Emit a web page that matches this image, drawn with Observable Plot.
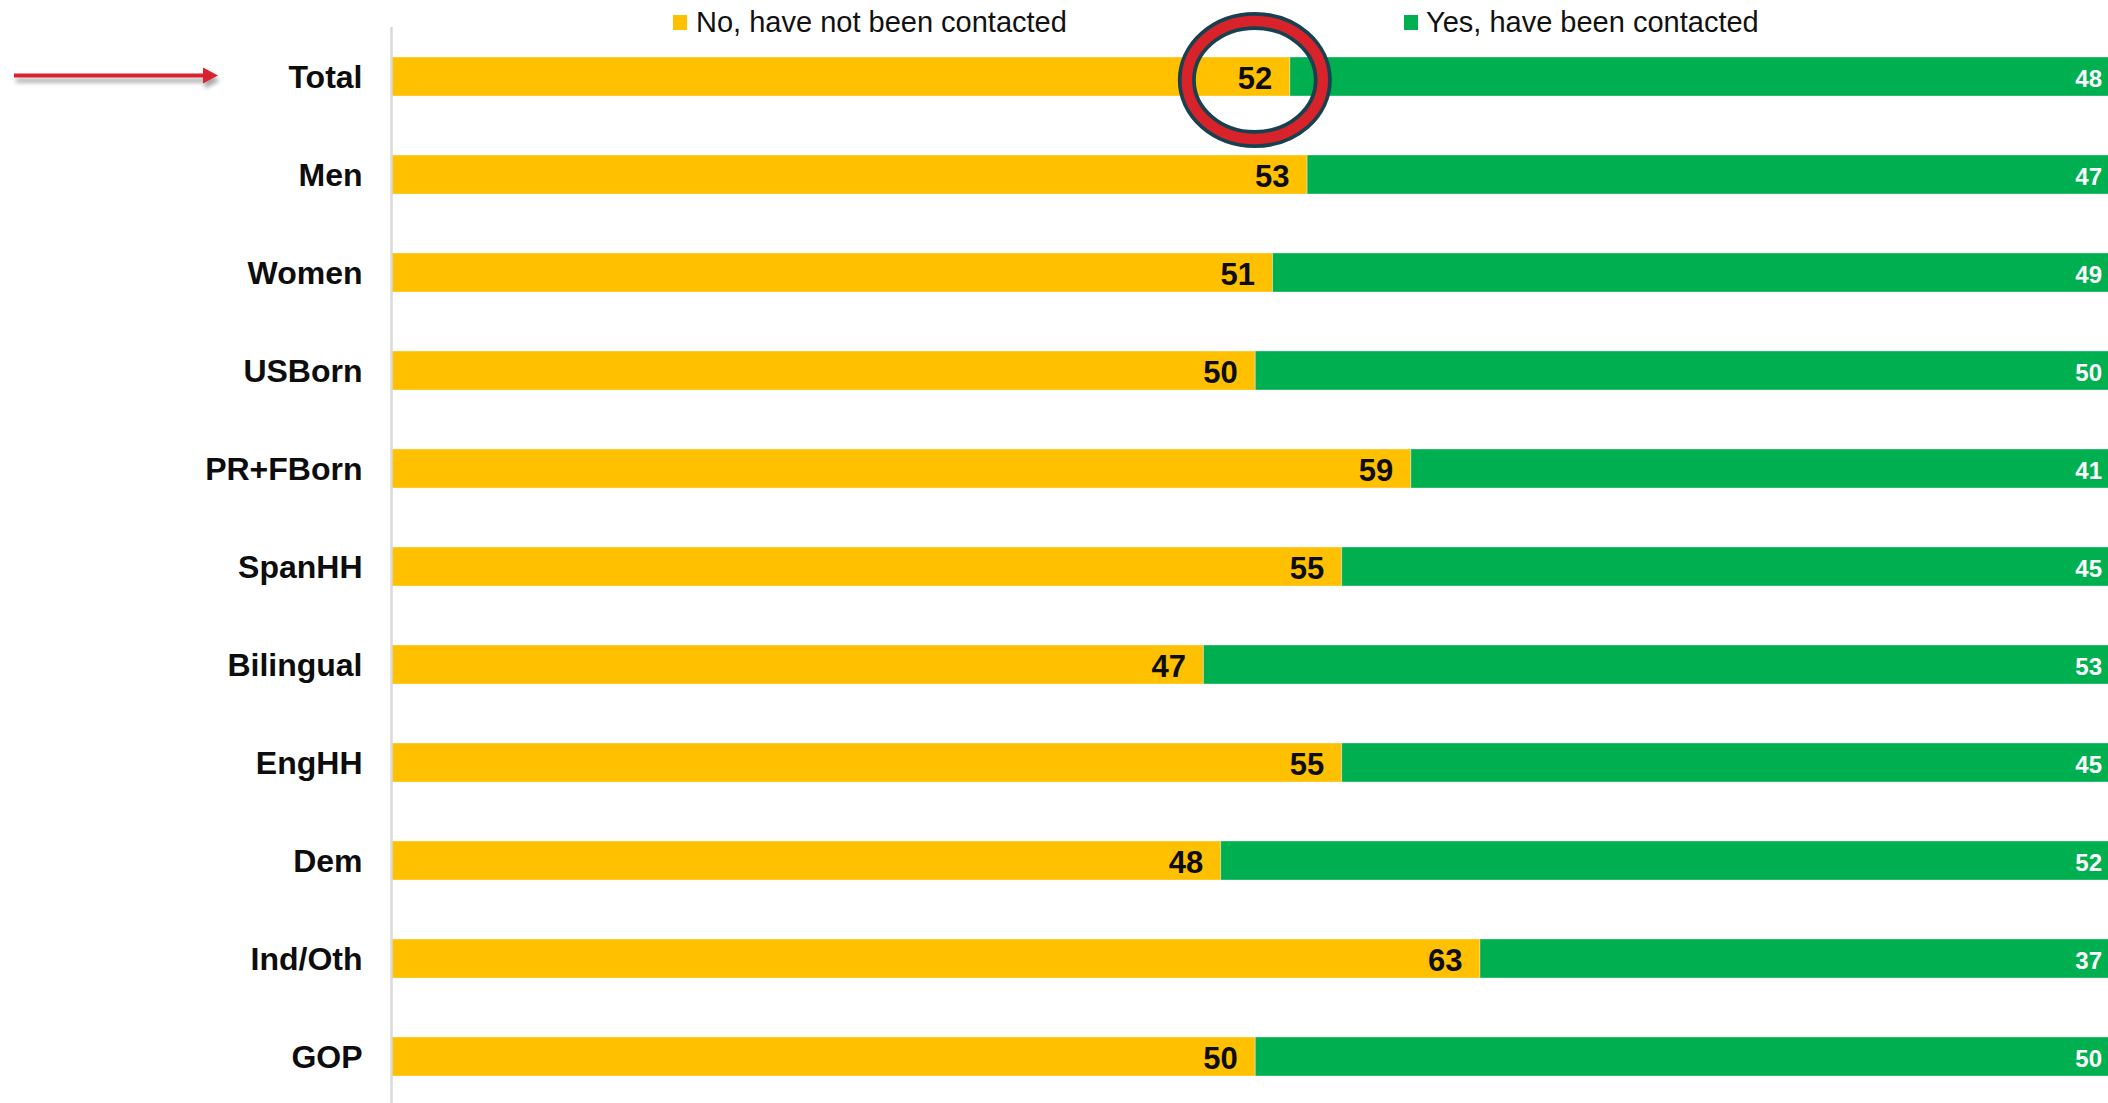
<!DOCTYPE html>
<html>
<head>
<meta charset="utf-8">
<script src="https://cdn.jsdelivr.net/npm/d3@7"></script>
<script src="https://cdn.jsdelivr.net/npm/@observablehq/plot@0.6"></script>
<style>
  html, body { margin: 0; padding: 0; background: #fff; overflow: hidden; }
  body { width: 2108px; height: 1103px; font-family: "Liberation Sans", Arial, Helvetica, sans-serif; }
  #legend { position: relative; height: 27px; z-index: 2; }
  .sw { position: absolute; top: 15px; width: 14px; height: 15px; }
  .lt { position: absolute; top: 8px; font-size: 29px; line-height: 29px; color: #111; white-space: nowrap; }
  #chart svg { display: block; background: transparent; }
</style>
</head>
<body>
<div id="legend"></div>
<div id="chart"></div>
<script>
// ---- data ----
const groups = ["Total", "Men", "Women", "USBorn", "PR+FBorn", "SpanHH", "Bilingual", "EngHH", "Dem", "Ind/Oth", "GOP"];
const noValues = [52, 53, 51, 50, 59, 55, 47, 55, 48, 63, 50];
const yesValues = [48, 47, 49, 50, 41, 45, 53, 45, 52, 37, 50];
const responses = ["No, have not been contacted", "Yes, have been contacted"];
const responseColors = ["#FFC000", "#00B050"];
const highlightGroup = "Total";

// long table for the stacked bars
const rows = [];
groups.forEach((g, i) => {
  rows.push({group: g, response: responses[0], value: noValues[i]});
  rows.push({group: g, response: responses[1], value: yesValues[i]});
});
const idx = groups.map((_, i) => i);

// ---- legend (HTML, above the svg) ----
const legend = document.getElementById("legend");
const legendPos = [[673, 696], [1404, 1426]];
responses.forEach((r, k) => {
  const sw = document.createElement("div");
  sw.className = "sw";
  sw.style.left = legendPos[k][0] + "px";
  sw.style.background = responseColors[k];
  legend.appendChild(sw);
  const t = document.createElement("div");
  t.className = "lt";
  t.style.left = legendPos[k][1] + "px";
  t.textContent = r;
  legend.appendChild(t);
});

// ---- annotation (arrow + ring around highlighted value) ----
function annotations(index, scales) {
  const sx = scales.x, sy = scales.y;
  const bw = typeof sy.bandwidth === "function" ? sy.bandwidth() : 39.26;
  const i = groups.indexOf(highlightGroup);
  const cy = sy(highlightGroup) + bw / 2;
  const cx = sx(noValues[i]) - 35;
  const g = d3.create("svg:g");
  const defs = g.append("defs");
  const f = defs.append("filter").attr("id", "arrowShadow")
    .attr("x", "-10%").attr("y", "-100%").attr("width", "130%").attr("height", "400%");
  f.append("feDropShadow").attr("dx", 2).attr("dy", 5).attr("stdDeviation", 2)
    .attr("flood-color", "#000").attr("flood-opacity", 0.35);
  const ay = cy - 1;
  const arrow = g.append("g").attr("filter", "url(#arrowShadow)");
  arrow.append("line")
    .attr("x1", 14).attr("x2", 206).attr("y1", ay).attr("y2", ay)
    .attr("stroke", "#D8232E").attr("stroke-width", 4);
  arrow.append("path")
    .attr("d", `M203,${ay - 8}L218,${ay}L203,${ay + 8}Z`)
    .attr("fill", "#D8232E");
  g.append("ellipse")
    .attr("cx", cx).attr("cy", cy + 3.5).attr("rx", 68).attr("ry", 59)
    .attr("fill", "none").attr("stroke", "#17414F").attr("stroke-width", 18);
  g.append("ellipse")
    .attr("cx", cx).attr("cy", cy + 3.5).attr("rx", 68).attr("ry", 59)
    .attr("fill", "none").attr("stroke", "#D9232B").attr("stroke-width", 10.5);
  return g.node();
}

const font = "'Liberation Sans', Arial, Helvetica, sans-serif";

const chart = Plot.plot({
  width: 2108,
  height: 1076,
  marginLeft: 391,
  marginRight: 0,
  marginTop: 0,
  marginBottom: 0,
  style: {background: "transparent", fontFamily: font, overflow: "visible"},
  x: {domain: [0, 100], range: [391, 2119.5], axis: null},
  y: {domain: groups, range: [0, 1079.5], paddingInner: 0.6, paddingOuter: 0.3, axis: null},
  color: {domain: responses, range: responseColors},
  marks: [
    Plot.barX(rows, {
      y: "group", x: "value", fill: "response", order: responses,
      stroke: "#fff", strokeOpacity: 0.35, strokeWidth: 1
    }),
    Plot.ruleX([0], {stroke: "#d9d9d9", strokeWidth: 2.5}),
    // category labels
    Plot.text(groups, {
      y: d => d, text: d => d, frameAnchor: "left", textAnchor: "end",
      dx: -29, dy: 1, fontSize: 32, fontWeight: "bold", fill: "#0d0d0d", fontFamily: font
    }),
    // "No" values, inside the end of the yellow bar
    Plot.text(idx, {
      y: i => groups[i], x: i => noValues[i], text: i => String(noValues[i]),
      textAnchor: "end", dx: -18, dy: 2.4, fontSize: 31, fontWeight: "bold", fill: "#0d0d0d", fontFamily: font
    }),
    // "Yes" values, inside the end of the green bar
    Plot.text(idx, {
      y: i => groups[i], x: i => noValues[i] + yesValues[i], text: i => String(yesValues[i]),
      textAnchor: "end", dx: -18, dy: 2, fontSize: 24, fontWeight: "bold", fill: "#ffffff", fontFamily: font
    }),
    annotations
  ]
});
document.getElementById("chart").appendChild(chart);
</script>
</body>
</html>
